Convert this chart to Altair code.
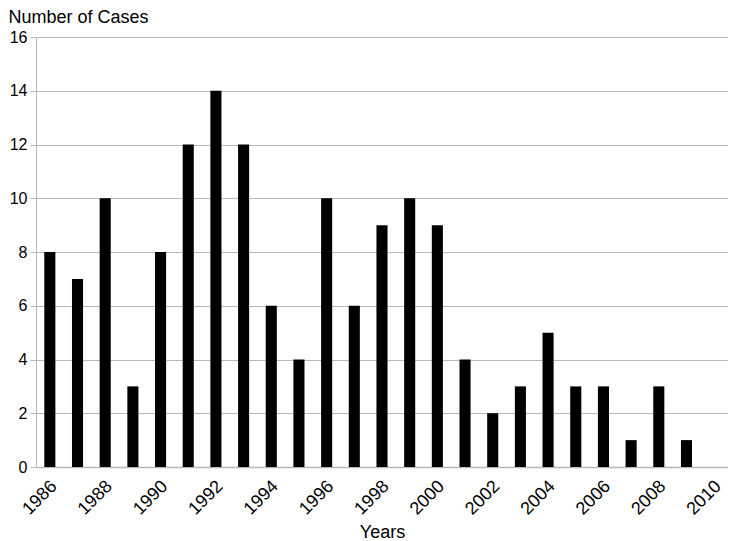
import altair as alt
import pandas as pd

years = list(range(1986, 2011))
cases = [8, 7, 10, 3, 8, 12, 14, 12, 6, 4, 10, 6, 9, 10, 9, 4, 2, 3, 5, 3, 3, 1, 3, 1, 0]
y_ticks = [0, 2, 4, 6, 8, 10, 12, 14, 16]
x_label_years = [y for y in years if y % 2 == 0]

df = pd.DataFrame({"Year": years, "Cases": cases})

FONT = "Liberation Sans"
GRID = "#b8b8b8"

chart = (
    alt.Chart(df)
    .mark_bar(color="black")
    .encode(
        x=alt.X(
            "Year:O",
            scale=alt.Scale(paddingInner=0.6, paddingOuter=0.3),
            axis=alt.Axis(
                title="Years",
                values=x_label_years,
                labelAngle=-45,
                labelAlign="right",
                labelBaseline="top",
                labelPadding=10,
                labelOffset=-2,
                labelFontSize=18,
                labelFont=FONT,
                labelColor="black",
                ticks=False,
                domainColor=GRID,
                domainWidth=1.5,
                grid=False,
                titleFont=FONT,
                titleFontSize=18,
                titleFontWeight="normal",
                titleColor="black",
                titleBaseline="alphabetic",
                titleY=70,
            ),
        ),
        y=alt.Y(
            "Cases:Q",
            scale=alt.Scale(domain=[0, 16], nice=False),
            axis=alt.Axis(
                title="Number of Cases",
                values=y_ticks,
                labelFontSize=16,
                labelFont=FONT,
                labelColor="black",
                labelPadding=3,
                tickSize=6,
                tickColor=GRID,
                domainColor=GRID,
                gridColor=GRID,
                titleAngle=0,
                titleAlign="left",
                titleBaseline="top",
                titleX=-28,
                titleY=-29,
                titleFont=FONT,
                titleFontSize=18,
                titleFontWeight="normal",
                titleColor="black",
            ),
        ),
    )
    .properties(
        width=692,
        height=430,
        autosize=alt.AutoSizeParams(type="none"),
        padding={"left": 28, "top": 29, "right": 0, "bottom": 74},
    )
    .configure_view(stroke=None)
)

chart.save("out.html", embed_options={"renderer": "svg", "actions": False})
